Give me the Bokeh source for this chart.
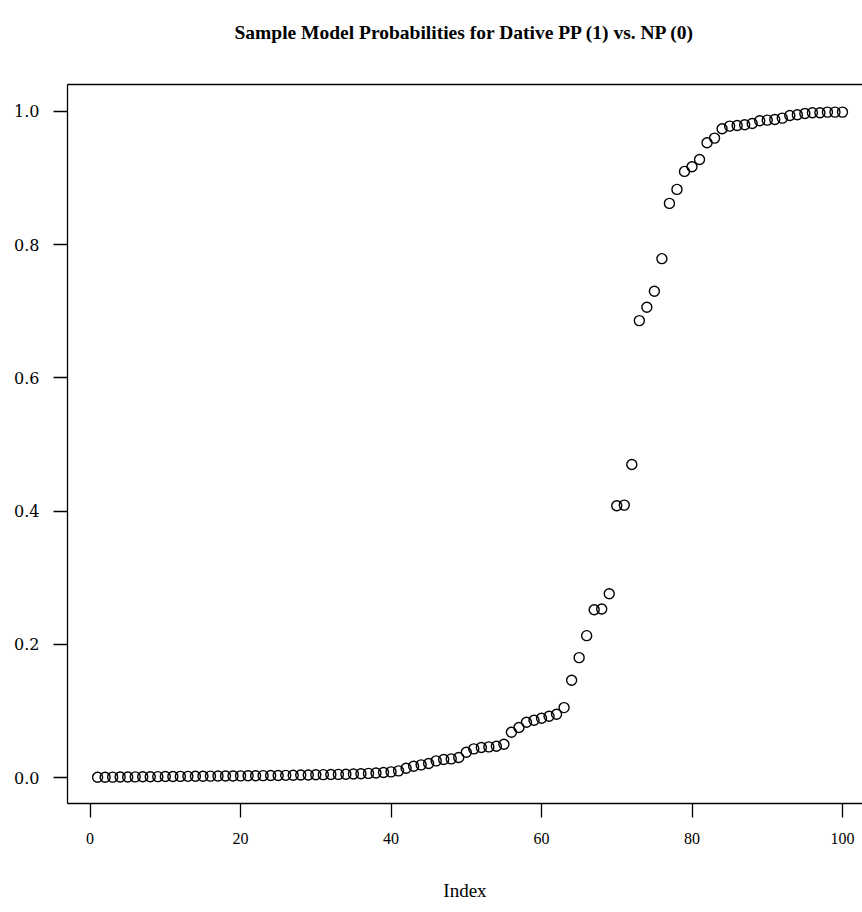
from bokeh.plotting import figure
from bokeh.models import Range1d, FixedTicker, PrintfTickFormatter, LinearAxis, ColumnDataSource
from bokeh.embed import file_html
from bokeh.resources import INLINE

title_text = "Sample Model Probabilities for Dative PP (1) vs. NP (0)"
x_label = "Index"
x_ticks = [0, 20, 40, 60, 80, 100]
y_ticks = [0.0, 0.2, 0.4, 0.6, 0.8, 1.0]

index = list(range(1, 101))
prob = [
    0.0003, 0.0004, 0.0006, 0.0007, 0.0008, 0.0010, 0.0011, 0.0012, 0.0013, 0.0015,
    0.0016, 0.0017, 0.0018, 0.0019, 0.0020, 0.0021, 0.0022, 0.0023, 0.0024, 0.0025,
    0.0026, 0.0027, 0.0028, 0.0030, 0.0031, 0.0033, 0.0035, 0.0037, 0.0039, 0.0041,
    0.0043, 0.0045, 0.0047, 0.0050, 0.0053, 0.0057, 0.0062, 0.0068, 0.0075, 0.0085,
    0.010, 0.014, 0.017, 0.019, 0.021, 0.025, 0.027, 0.028, 0.030, 0.038,
    0.043, 0.045, 0.046, 0.047, 0.050, 0.068, 0.075, 0.083, 0.086, 0.089,
    0.092, 0.095, 0.105, 0.146, 0.180, 0.213, 0.252, 0.253, 0.276, 0.408,
    0.409, 0.470, 0.686, 0.706, 0.730, 0.779, 0.862, 0.883, 0.910, 0.917,
    0.928, 0.953, 0.960, 0.974, 0.978, 0.979, 0.980, 0.982, 0.986, 0.987,
    0.988, 0.990, 0.994, 0.995, 0.997, 0.998, 0.998, 0.999, 0.999, 0.999,
]

SERIF = "Liberation Serif"

source = ColumnDataSource(data=dict(index=index, prob=prob))

p = figure(
    width=862, height=912,
    x_range=Range1d(-3.0, 102.66), y_range=Range1d(-0.039, 1.0405),
    output_backend="svg", toolbar_location=None,
    min_border_left=67, min_border_right=0, min_border_top=84, min_border_bottom=109,
    x_axis_type=None, y_axis_type=None,
)
p.outline_line_color = None
p.xgrid.visible = False
p.ygrid.visible = False
p.background_fill_color = "white"
p.border_fill_color = "white"

def style_axis(ax):
    ax.axis_line_color = "black"
    ax.axis_line_width = 1.3
    ax.major_tick_line_color = "black"
    ax.major_tick_line_width = 1.3
    ax.major_tick_in = 0
    ax.major_tick_out = 14
    ax.minor_tick_line_color = None
    ax.major_label_text_color = "black"
    ax.axis_label_text_font = SERIF
    ax.axis_label_text_font_size = "19px"
    ax.axis_label_text_font_style = "normal"
    ax.axis_label_text_color = "black"

xaxis = LinearAxis(ticker=FixedTicker(ticks=x_ticks), axis_label=x_label)
style_axis(xaxis)
xaxis.major_label_text_font = SERIF
xaxis.major_label_text_font_size = "16px"
xaxis.major_label_standoff = 15
xaxis.axis_label_standoff = 33
p.add_layout(xaxis, "below")

yaxis = LinearAxis(ticker=FixedTicker(ticks=y_ticks), formatter=PrintfTickFormatter(format="%.1f"))
style_axis(yaxis)
yaxis.major_label_text_font = "DejaVu Serif"
yaxis.major_label_text_font_size = "16px"
yaxis.major_label_standoff = 14
yaxis.major_label_orientation = "horizontal"
p.add_layout(yaxis, "left")

# top border of the box; its label carries the chart title
top = LinearAxis(ticker=FixedTicker(ticks=[]), axis_label=title_text)
top.axis_line_color = "black"
top.axis_line_width = 1.3
top.major_tick_line_color = None
top.major_tick_out = 0
top.major_tick_in = 0
top.minor_tick_line_color = None
top.major_label_text_font_size = "0px"
top.major_label_standoff = 0
top.axis_label_text_font = SERIF
top.axis_label_text_font_size = "19.5px"
top.axis_label_text_font_style = "bold"
top.axis_label_text_color = "black"
top.axis_label_standoff = 42
p.add_layout(top, "above")

p.scatter("index", "prob", source=source, marker="circle", size=10,
          fill_color=None, line_color="black", line_width=1.4)

open("out.html", "w").write(file_html(p, INLINE))
